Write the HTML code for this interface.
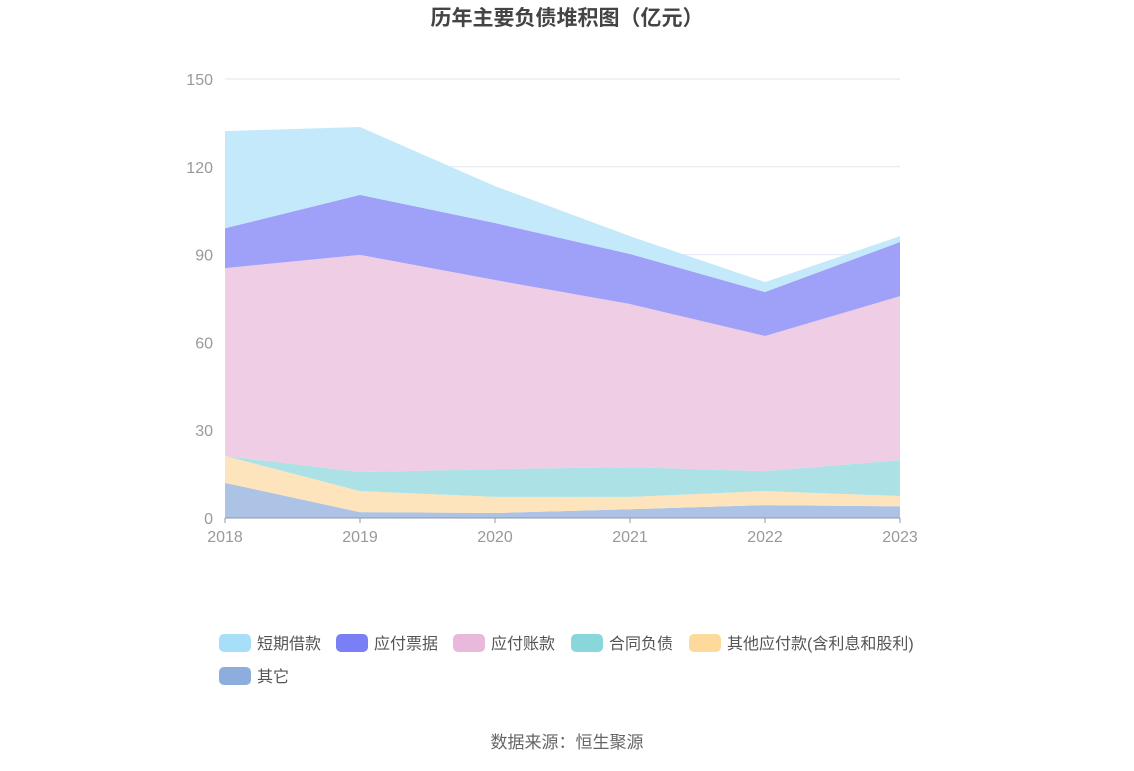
<!DOCTYPE html>
<html><head><meta charset="utf-8"><style>
body{margin:0;background:#fff;font-family:"Liberation Sans","Noto Sans CJK SC",sans-serif}
</style></head><body>
<svg width="1134" height="766" id="c" xmlns="http://www.w3.org/2000/svg" style="font-family:'Liberation Sans','Noto Sans CJK SC',sans-serif">
<text x="567" y="25" text-anchor="middle" font-size="21" font-weight="bold" fill="#444">历年主要负债堆积图（亿元）</text>
<text x="567" y="748" text-anchor="middle" font-size="17" fill="#666">数据来源：恒生聚源</text>
</svg>
<script>
const years=['2018','2019','2020','2021','2022','2023'];
const yTicks=[0,30,60,90,120,150];
const seriesNames=['其它','其他应付款(含利息和股利)','合同负债','应付账款','应付票据','短期借款'];
const qita=[12,2,1.7,3,4.4,4];
const qitaYingfu=[9.2,7.2,5.5,4.2,4.8,3.5];
const hetong=[0,6.5,9.5,10.2,6.8,12.3];
const zhangkuan=[64.2,74.2,64.6,55.7,46.2,56];
const piaoju=[13.6,20.5,19.5,17.1,15,18.5];
const duanqi=[33.2,23.2,12.6,6.1,3.4,2];
const series=[qita,qitaYingfu,hetong,zhangkuan,piaoju,duanqi];
const fills=['#adc3e6','#fde4bd','#ace2e5','#efcde4','#9fa0f8','#c4e9fb'];
const legendColors=['#8daedc','#fdd99b','#8ad7db','#e8b9da','#7b7ff5','#a8dff8'];
const svg=document.getElementById('c');const NS='http://www.w3.org/2000/svg';
const x=i=>225+i*(675/(years.length-1));
const y=v=>518-v*(439/150);
function mk(t,a,p){const e=document.createElementNS(NS,t);for(const k in a)e.setAttribute(k,a[k]);(p||svg).appendChild(e);return e;}
yTicks.forEach(t=>{
  const l=mk('line',{x1:225,x2:900,y1:y(t),y2:y(t),stroke:t?'#e3e6f0':'#8c99a8','stroke-width':1});
  
  
  const tx=mk('text',{x:213,y:y(t)+6,'text-anchor':'end','font-size':16,fill:'#999'});tx.textContent=t;
  
  
});
let base=years.map(()=>0);
series.forEach((s,si)=>{
  const top=base.map((b,i)=>b+s[i]);
  let d='M'+years.map((_,i)=>x(i)+','+y(top[i])).join('L');
  for(let i=years.length-1;i>=0;i--)d+='L'+x(i)+','+y(base[i]);
  const p=mk('path',{d:d+'Z',fill:fills[si]});
  
  
  base=top;
});
mk('line',{x1:225,x2:900,y1:518,y2:518,stroke:'#8c99a8'});
years.forEach((yr,i)=>{
  mk('line',{x1:x(i),x2:x(i),y1:518,y2:523,stroke:'#8c99a8'});
  const t=mk('text',{x:x(i),y:542,'text-anchor':'middle','font-size':16,fill:'#999'});t.textContent=yr;
  
  
});
const legendOrder=[5,4,3,2,1,0];
const lx=[219,336,453,571,689,219],ly=[643,643,643,643,643,676];
legendOrder.forEach((si,k)=>{
  const g=mk('g',{});
  
  
  mk('rect',{x:lx[k],y:ly[k]-9,width:32,height:18,rx:5,fill:legendColors[si]},g);
  const t=mk('text',{x:lx[k]+38,y:ly[k]+6,'font-size':16,fill:'#555'},g);t.textContent=seriesNames[si]==='其它'?'其它':seriesNames[si];
});
</script>
</body></html>
